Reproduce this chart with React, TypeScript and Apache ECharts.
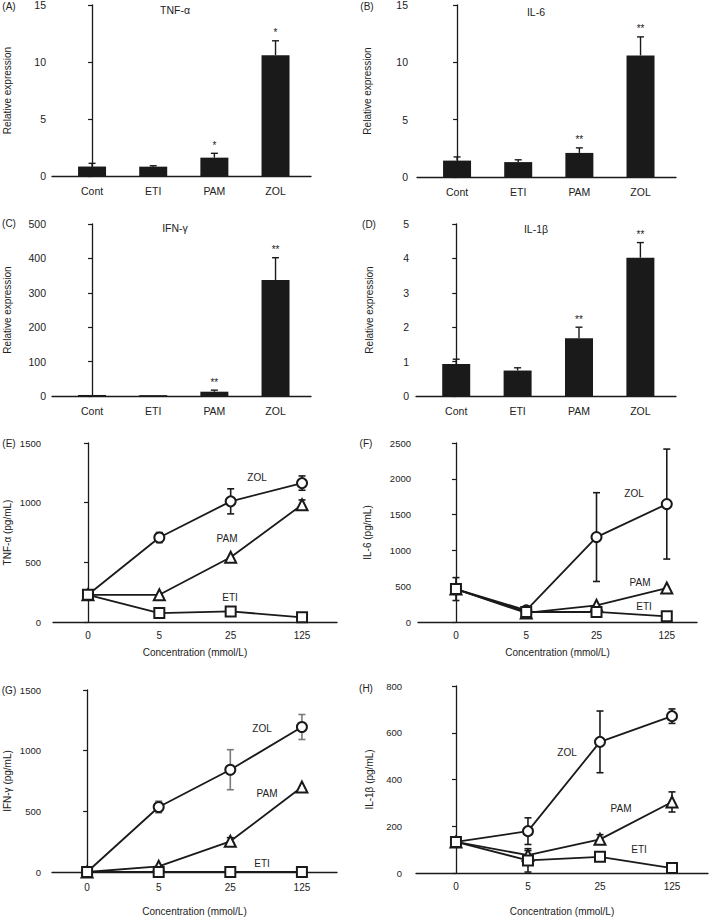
import React, { useEffect, useRef } from "react";
import * as echarts from "echarts";

// ---------- data ----------
const barCategories = ["Cont", "ETI", "PAM", "ZOL"];

const tnfBarMean = [0.83, 0.82, 1.61, 10.6];
const tnfBarSE = [0.28, 0.08, 0.38, 1.26];
const tnfBarStars = ["", "", "*", "*"];

const il6BarMean = [1.43, 1.3, 2.1, 10.6];
const il6BarSE = [0.32, 0.2, 0.44, 1.62];
const il6BarStars = ["", "", "**", "**"];

const ifnBarMean = [3, 2.5, 12.5, 337];
const ifnBarSE = [0, 0, 4.5, 65];
const ifnBarStars = ["", "", "**", "**"];

const il1bBarMean = [0.93, 0.74, 1.68, 4.02];
const il1bBarSE = [0.14, 0.08, 0.32, 0.44];
const il1bBarStars = ["", "", "**", "**"];

const concLabels = ["0", "5", "25", "125"];
const groupNames = ["ZOL", "PAM", "ETI"];

const tnfZol = [228, 708, 1011, 1164];
const tnfZolSE = [0, 42, 105, 60];
const tnfPam = [228, 228, 542, 983];
const tnfPamSE = [0, 0, 0, 40];
const tnfEti = [228, 75, 89, 39];
const tnfEtiSE = [0, 0, 0, 0];

const il6Zol = [460, 163, 1186, 1647];
const il6ZolSE = [160, 0, 620, 768];
const il6Pam = [460, 126, 233, 474];
const il6PamSE = [0, 0, 0, 0];
const il6Eti = [460, 140, 140, 79];
const il6EtiSE = [0, 0, 0, 0];

const ifnZol = [0, 536, 843, 1195];
const ifnZolSE = [0, 48, 165, 103];
const ifnPam = [0, 47, 253, 700];
const ifnPamSE = [0, 0, 30, 0];
const ifnEti = [0, 0, 0, 0];
const ifnEtiSE = [0, 0, 0, 0];

const il1bZol = [133, 179, 561, 671];
const il1bZolSE = [0, 57, 132, 31];
const il1bPam = [133, 76, 144, 304];
const il1bPamSE = [0, 20, 20, 43];
const il1bEti = [133, 54, 69, 21];
const il1bEtiSE = [0, 50, 0, 0];

// ---------- layout ----------
const FONT = "Liberation Sans";
const INK = "#1a1a1a";

const barPanels = [
  { letter: "(A)", title: "TNF-α", mean: tnfBarMean, se: tnfBarSE, stars: tnfBarStars, max: 15, interval: 5,
    grid: { left: 52, top: 5, width: 259, height: 171 }, labelMargin: 6, nameGap: 40,
    letterPos: [9, 6], titlePos: [175, 10] },
  { letter: "(B)", title: "IL-6", mean: il6BarMean, se: il6BarSE, stars: il6BarStars, max: 15, interval: 5,
    grid: { left: 417, top: 5, width: 259, height: 172 }, labelMargin: 9, nameGap: 45,
    letterPos: [367, 6], titlePos: [536, 12] },
  { letter: "(C)", title: "IFN-γ", mean: ifnBarMean, se: ifnBarSE, stars: ifnBarStars, max: 500, interval: 100,
    grid: { left: 52, top: 224, width: 259, height: 172 }, labelMargin: 6, nameGap: 40,
    letterPos: [9, 223], titlePos: [175, 228] },
  { letter: "(D)", title: "IL-1β", mean: il1bBarMean, se: il1bBarSE, stars: il1bBarStars, max: 5, interval: 1,
    grid: { left: 416, top: 224, width: 260, height: 172 }, labelMargin: 7, nameGap: 42,
    letterPos: [369, 224], titlePos: [536, 229] },
];

const linePanels = [
  { letter: "(E)", yName: "TNF-α (pg/mL)", max: 1500, interval: 500,
    series: [[tnfZol, tnfZolSE], [tnfPam, tnfPamSE], [tnfEti, tnfEtiSE]],
    grid: { left: 53, top: 443, width: 284, height: 179 }, xMin: -0.49, xMax: 3.49,
    labelMargin: 12, nameGap: 41, xLabelMargin: 8, xNameGap: 25, errColor: [INK, INK, INK],
    letterPos: [9, 443], labelPos: [[257, 477], [227, 538], [230, 597]] },
  { letter: "(F)", yName: "IL-6 (pg/mL)", max: 2500, interval: 500,
    series: [[il6Zol, il6ZolSE], [il6Pam, il6PamSE], [il6Eti, il6EtiSE]],
    grid: { left: 418, top: 443, width: 279, height: 179 }, xMin: -0.54, xMax: 3.43,
    labelMargin: 7, nameGap: 46, xLabelMargin: 8, xNameGap: 25, errColor: [INK, INK, INK],
    letterPos: [366, 443], labelPos: [[634, 493], [640, 582], [644, 606]] },
  { letter: "(G)", yName: "IFN-γ (pg/mL)", max: 1500, interval: 500,
    series: [[ifnZol, ifnZolSE], [ifnPam, ifnPamSE], [ifnEti, ifnEtiSE]],
    grid: { left: 52, top: 690, width: 285, height: 182 }, xMin: -0.49, xMax: 3.49,
    labelMargin: 11, nameGap: 40, xLabelMargin: 10, xNameGap: 34, errColor: ["#7a7a7a", INK, INK],
    letterPos: [9, 690], labelPos: [[262, 728], [267, 793], [262, 863]] },
  { letter: "(H)", yName: "IL-1β (pg/mL)", max: 800, interval: 200,
    series: [[il1bZol, il1bZolSE], [il1bPam, il1bPamSE], [il1bEti, il1bEtiSE]],
    grid: { left: 416, top: 686, width: 292, height: 187 }, xMin: -0.555, xMax: 3.5,
    labelMargin: 14, nameGap: 42, xLabelMargin: 8, xNameGap: 33, errColor: [INK, INK, INK],
    letterPos: [366, 688], labelPos: [[567, 752], [621, 808], [639, 849]] },
];

const symbols = ["circle", "triangle", "rect"];

function textEl(x: number, y: number, text: string, size: number) {
  return {
    type: "text",
    x,
    y,
    silent: true,
    style: {
      text,
      fontSize: size,
      fontFamily: FONT,
      fill: "#222",
      align: "center",
      verticalAlign: "middle",
      textAlign: "center",
      textVerticalAlign: "middle",
    },
  };
}

function yAxisCommon(k: number, max: number, interval: number, name: string, margin: number, gap: number, fs: number) {
  return {
    type: "value",
    gridIndex: k,
    min: 0,
    max,
    interval,
    name,
    nameLocation: "middle",
    nameGap: gap,
    nameTextStyle: { fontSize: 10, fontFamily: FONT, color: "#222" },
    axisLine: { show: true, lineStyle: { color: INK, width: 1.3 } },
    axisTick: { show: true, length: 4, lineStyle: { color: INK, width: 1.2 } },
    axisLabel: { margin, fontSize: fs, fontFamily: FONT, color: "#222", formatter: (v: number) => String(v) },
    splitLine: { show: false },
  };
}

function buildOption() {
  const grid: any[] = [];
  const xAxis: any[] = [];
  const yAxis: any[] = [];
  const series: any[] = [];
  const graphic: any[] = [];
  let k = 0;

  barPanels.forEach((p) => {
    grid.push({ ...p.grid, containLabel: false, outerBoundsMode: "none" });
    xAxis.push({
      type: "value",
      gridIndex: k,
      min: -0.655,
      max: 3.58,
      axisLine: { show: true, lineStyle: { color: INK, width: 1.3 } },
      axisTick: { show: false },
      splitLine: { show: false },
      axisLabel: {
        customValues: [0, 1, 2, 3],
        formatter: (v: number) => barCategories[Math.round(v)] ?? "",
        margin: 9,
        fontSize: 10.5,
        fontFamily: FONT,
        color: "#222",
      },
    });
    yAxis.push(yAxisCommon(k, p.max, p.interval, "Relative expression", p.labelMargin, p.nameGap, 10.5));
    series.push({
      type: "bar",
      xAxisIndex: k,
      yAxisIndex: k,
      barWidth: 28,
      data: p.mean.map((v, i) => [i, v]),
      itemStyle: { color: INK },
      z: 2,
    });
    const stars = p.stars;
    series.push({
      type: "custom",
      xAxisIndex: k,
      yAxisIndex: k,
      data: p.mean.map((v, i) => [i, v, p.se[i]]),
      encode: { x: 0, y: 1 },
      z: 3,
      renderItem: (params: any, api: any) => {
        const x = api.value(0);
        const y = api.value(1);
        const e = api.value(2);
        const base = api.coord([x, y]);
        const top = api.coord([x, y + e]);
        const children: any[] = [];
        const st = { stroke: INK, lineWidth: 1.4 };
        if (e > 0) {
          children.push({ type: "line", shape: { x1: top[0], y1: base[1], x2: top[0], y2: top[1] }, style: st });
          children.push({ type: "line", shape: { x1: top[0] - 3.5, y1: top[1], x2: top[0] + 3.5, y2: top[1] }, style: st });
        }
        const s = stars[params.dataIndex];
        if (s) {
          children.push({
            type: "text",
            x: top[0],
            y: top[1] - 3,
            style: {
              text: s,
              fontSize: 10,
              fontFamily: FONT,
              fill: "#222",
              align: "center",
              verticalAlign: "bottom",
              textAlign: "center",
              textVerticalAlign: "bottom",
            },
          });
        }
        return { type: "group", children };
      },
    });
    graphic.push(textEl(p.letterPos[0], p.letterPos[1], p.letter, 10));
    graphic.push(textEl(p.titlePos[0], p.titlePos[1], p.title, 10.5));
    k++;
  });

  linePanels.forEach((p) => {
    grid.push({ ...p.grid, containLabel: false, outerBoundsMode: "none" });
    xAxis.push({
      type: "value",
      gridIndex: k,
      min: p.xMin,
      max: p.xMax,
      name: "Concentration (mmol/L)",
      nameLocation: "middle",
      nameGap: p.xNameGap,
      nameTextStyle: { fontSize: 10, fontFamily: FONT, color: "#222" },
      axisLine: { show: true, lineStyle: { color: INK, width: 1.3 } },
      axisTick: { show: false },
      splitLine: { show: false },
      axisLabel: {
        customValues: [0, 1, 2, 3],
        formatter: (v: number) => concLabels[Math.round(v)] ?? "",
        margin: p.xLabelMargin,
        fontSize: 10,
        fontFamily: FONT,
        color: "#222",
      },
    });
    yAxis.push(yAxisCommon(k, p.max, p.interval, p.yName, p.labelMargin, p.nameGap, 9.5));
    p.series.forEach(([vals, se], j) => {
      const col = p.errColor[j];
      series.push({
        type: "custom",
        name: groupNames[j] + " error",
        xAxisIndex: k,
        yAxisIndex: k,
        data: vals.map((v, i) => [i, v, se[i]]),
        encode: { x: 0, y: 1 },
        z: 2,
        renderItem: (params: any, api: any) => {
          const x = api.value(0);
          const y = api.value(1);
          const e = api.value(2);
          if (!(e > 0)) return { type: "group", children: [] };
          const top = api.coord([x, y + e]);
          const bot = api.coord([x, Math.max(0, y - e)]);
          const st = { stroke: col, lineWidth: 1.6 };
          return {
            type: "group",
            children: [
              { type: "line", shape: { x1: top[0], y1: top[1], x2: bot[0], y2: bot[1] }, style: st },
              { type: "line", shape: { x1: top[0] - 3.5, y1: top[1], x2: top[0] + 3.5, y2: top[1] }, style: st },
              { type: "line", shape: { x1: bot[0] - 3.5, y1: bot[1], x2: bot[0] + 3.5, y2: bot[1] }, style: st },
            ],
          };
        },
      });
    });
    p.series.forEach(([vals], j) => {
      series.push({
        type: "line",
        name: groupNames[j],
        xAxisIndex: k,
        yAxisIndex: k,
        data: vals.map((v, i) => [i, v]),
        symbol: symbols[j],
        symbolSize: j === 1 ? 11 : 10,
        showAllSymbol: true,
        lineStyle: { color: INK, width: 1.8 },
        itemStyle: { color: "#fff", borderColor: INK, borderWidth: 2 },
        z: 3 + j,
      });
    });
    graphic.push(textEl(p.letterPos[0], p.letterPos[1], p.letter, 10));
    p.labelPos.forEach((pos, j) => graphic.push(textEl(pos[0], pos[1], groupNames[j], 10)));
    k++;
  });

  return {
    animation: false,
    backgroundColor: "#fff",
    textStyle: { fontFamily: FONT },
    grid,
    xAxis,
    yAxis,
    series,
    graphic: { elements: graphic },
  };
}

export default function App() {
  const ref = useRef<HTMLDivElement>(null);
  useEffect(() => {
    if (!ref.current) return;
    const chart = echarts.init(ref.current, undefined, { renderer: "svg" });
    chart.setOption(buildOption() as any);
    return () => chart.dispose();
  }, []);
  return (
    <div
      ref={ref}
      style={{ position: "absolute", left: 0, top: 0, width: 709, height: 917, background: "#fff" }}
    />
  );
}
